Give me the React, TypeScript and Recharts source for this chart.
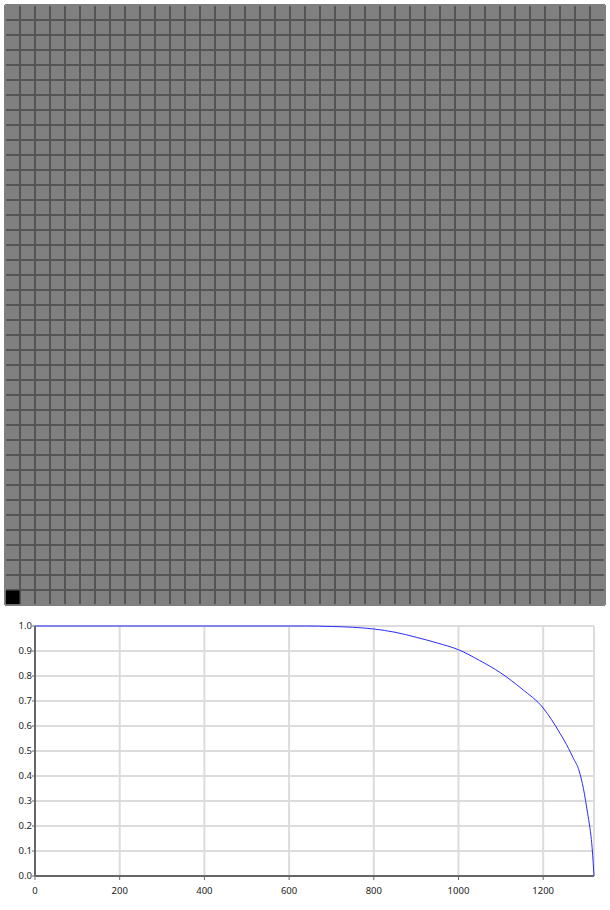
import React from "react";
import {
  ComposedChart,
  LineChart,
  Line,
  Scatter,
  XAxis,
  YAxis,
  CartesianGrid,
  ReferenceArea,
} from "recharts";

// ---- Grid (top panel) ----
const gridColumns = 40;
const gridRows = 40;
const filledCells = [{ col: 0, row: 0 }];
const columnTicks = Array.from({ length: gridColumns + 1 }, (_, i) => i);
const rowTicks = Array.from({ length: gridRows + 1 }, (_, i) => i);

// ---- Curve (bottom panel) ----
const curveX = [
  0, 640, 700, 750, 800, 850, 900, 950, 1000, 1050, 1100, 1150, 1200, 1240,
  1260, 1270, 1285, 1295, 1305, 1310, 1316, 1320,
];
const curveY = [
  1.0, 1.0, 0.998, 0.995, 0.988, 0.975, 0.955, 0.932, 0.905, 0.862, 0.812,
  0.748, 0.672, 0.57, 0.51, 0.475, 0.42, 0.35, 0.25, 0.197, 0.104, 0.0,
];
const xTicks = [0, 200, 400, 600, 800, 1000, 1200];
const yTicks = [0, 0.1, 0.2, 0.3, 0.4, 0.5, 0.6, 0.7, 0.8, 0.9, 1.0];

const curveData = curveX.map((x, i) => ({ x, y: curveY[i] }));

const font = "'Noto Sans', sans-serif";

export default function App() {
  return (
    <div
      style={{
        position: "absolute",
        left: 0,
        top: 0,
        width: 610,
        height: 910,
        background: "#fff",
        fontFamily: font,
      }}
    >
      <div style={{ position: "absolute", left: 0, top: 0 }}>
        <ComposedChart
          width={610}
          height={610}
          data={filledCells}
          margin={{ top: 5, right: 5, bottom: 5, left: 5 }}
        >
          <XAxis
            type="number"
            dataKey="col"
            domain={[0, gridColumns]}
            ticks={columnTicks}
            interval={0}
            height={0}
            tick={{ fontSize: 0, fill: "none" }}
            tickFormatter={() => ""}
            tickLine={false}
            axisLine={false}
            allowDataOverflow
          />
          <YAxis
            type="number"
            dataKey="row"
            domain={[0, gridRows]}
            ticks={rowTicks}
            interval={0}
            width={0}
            tick={{ fontSize: 0, fill: "none" }}
            tickFormatter={() => ""}
            tickLine={false}
            axisLine={false}
            allowDataOverflow
          />
          <CartesianGrid
            fill="#808080"
            fillOpacity={1}
            stroke="#555555"
            strokeWidth={2}
          />
          <Scatter
            data={filledCells}
            dataKey="row"
            fill="none"
            shape={() => <g />}
            isAnimationActive={false}
          />
          {filledCells.map((c, i) => (
            <ReferenceArea
              key={i}
              x1={c.col}
              x2={c.col + 1}
              y1={c.row}
              y2={c.row + 1}
              fill="#000"
              fillOpacity={1}
              stroke="#555555"
              strokeWidth={1}
              ifOverflow="visible"
            />
          ))}
          <ReferenceArea
            x1={0}
            x2={gridColumns}
            y1={0}
            y2={gridRows}
            fill="none"
            stroke="#aaaaaa"
            strokeWidth={1}
            ifOverflow="visible"
          />
        </ComposedChart>
      </div>
      <div style={{ position: "absolute", left: 0, top: 615 }}>
        <LineChart
          width={610}
          height={295}
          data={curveData}
          margin={{ top: 11, right: 16, bottom: 14, left: 0 }}
        >
          <CartesianGrid stroke="#dcdcdc" strokeWidth={2} />
          <XAxis
            type="number"
            dataKey="x"
            domain={[0, 1320]}
            ticks={xTicks}
            height={20}
            axisLine={{ stroke: "#666", strokeWidth: 2 }}
            tickLine={{ stroke: "#666", strokeWidth: 1 }}
            tickSize={4}
            tickMargin={7}
            tick={{ fill: "#222", fontSize: 9.5, fontFamily: font }}
            interval={0}
          />
          <YAxis
            type="number"
            dataKey="y"
            domain={[0, 1]}
            ticks={yTicks}
            width={35}
            axisLine={{ stroke: "#666", strokeWidth: 2 }}
            tickLine={{ stroke: "#666", strokeWidth: 1 }}
            tickSize={3}
            tickMargin={0}
            tick={{ fill: "#222", fontSize: 9.5, fontFamily: font }}
            tickFormatter={(v: number) => v.toFixed(1)}
            interval={0}
          />
          <Line
            type="monotone"
            dataKey="y"
            stroke="#2a2aff"
            strokeWidth={1}
            dot={false}
            isAnimationActive={false}
          />
        </LineChart>
      </div>
    </div>
  );
}
